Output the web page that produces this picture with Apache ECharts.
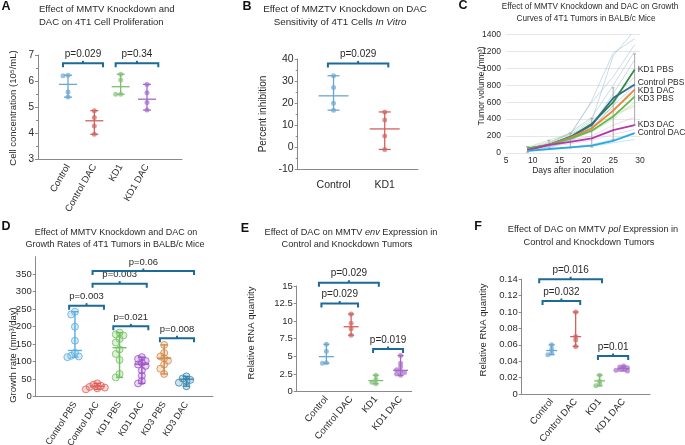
<!DOCTYPE html>
<html><head><meta charset="utf-8">
<script src="https://cdn.jsdelivr.net/npm/echarts@6/dist/echarts.min.js"></script>
<style>html,body{margin:0;padding:0;background:#fff}#c{width:685px;height:445px}</style>
</head><body><div id="c"></div>
<script>
// ---------------- DATA ----------------
// Panel A
const catsA = ['Control','Control DAC','KD1','KD1 DAC'];
const valsA = [[6.22,6.20,5.58,5.38],[4.86,4.60,4.27,3.95],[6.26,6.04,5.49,5.49],[5.87,5.55,5.17,4.88]];
const centerA = [5.87,4.47,5.78,5.30];
const bracketsA = [[0.81,2.33,6.68],[2.81,4.43,6.68]];
const pLabelsA = ['p=0.029','p=0.34'];
// Panel B
const catsB = ['Control','KD1'];
const valsB = [[32.4,27.1,19.9,16.8],[16.0,12.3,5.1,-1.0]];
const centerB = [23.3,8.3];
const bracketsB = [[0.89,2.07,38]];
const pLabelsB = ['p=0.029'];
// Panel C
const daysC = [9,13,17,21,25,29];
const controlPBS = [40,95,190,330,650,810];
const kd1PBS = [55,95,185,345,600,985];
const kd1DAC = [44,95,181,292,500,750];
const kd3PBS = [50,95,170,264,430,665];
const kd3DAC = [35,95,132,172,270,330];
const controlDAC = [24,47,67,86,142,235];
const errLowC = [10,40,60,70,160,330];
const errHighC = [75,150,235,410,770,1170];
const indivBlue = [[40,100,200,380,1150,1450],[30,90,210,620,1180,1350],[50,110,230,600,900,1280],[35,80,170,330,700,1100],[45,120,240,420,800,1200],[30,70,150,280,560,1000],[40,100,190,350,650,900],[25,60,140,300,560,800]];
const indivGreen = [[60,130,220,400,520,700],[40,90,160,250,400,600],[70,150,230,300,450,550]];
const indivPink = [[40,100,150,200,330,420],[30,80,110,150,220,280]];
const indivOrange = [[50,110,200,310,480,560]];
const indivCyan = [[20,40,60,80,120,160],[25,50,70,100,160,240]];
// Panel D
const catsD = ['Control PBS','Control DAC','KD1 PBS','KD1 DAC','KD3 PBS','KD3 DAC'];
const valsD = [
  [243,235,200,160,125,117,115,113],
  [38,34,31,28,26,24,21],
  [183,178,175,165,155,135,122,105,65,55],
  [113,108,102,97,92,88,75,60,45,38],
  [148,125,115,110,103,92,80,65],
  [58,52,48,44,40,30]
];
const centerD = [132,30,140,93,110,50];
const bracketsD = [[0.74,2.30,260],[1.79,4.22,323],[1.79,6.34,359],[2.72,4.29,201],[4.81,6.34,167]];
const pLabelsD = ['p=0.003','p=0.003','p=0.06','p=0.021','p=0.008'];
// Panel E
const catsE = ['Control','Control DAC','KD1','KD1 DAC'];
const valsE = [[6.7,5.7,4.1,4.0],[11.0,9.7,8.9,8.0],[2.3,1.7,1.3,1.1],[5.1,4.0,3.5,3.1,2.9,2.7,2.5,2.3]];
const centerE = [4.95,9.2,1.55,3.0];
const bracketsE = [[0.70,3.12,15.45],[0.80,2.28,12.5],[2.89,4.10,6.04]];
const pLabelsE = ['p=0.029','p=0.029','p=0.019'];
// Panel F
const catsF = ['Control','Control DAC','KD1','KD1 DAC'];
const valsF = [[0.060,0.055,0.050,0.048],[0.100,0.070,0.066,0.058],[0.023,0.016,0.012,0.010],[0.034,0.033,0.032,0.031,0.030,0.029,0.028]];
const centerF = [0.053,0.070,0.016,0.031];
const bracketsF = [[0.48,3.10,0.140],[0.62,2.19,0.1134],[2.93,4.19,0.0463]];
const pLabelsF = ['p=0.016','p=0.032','p=0.01'];

// ---------------- STYLE / BUILD ----------------
const FONT = '"Liberation Sans", Arial, sans-serif';
const TXT = '#2a2a2a';
const BR = '#1b6a98';
const AX = '#8a8a8a';
const colA = ['#6aa6d2','#d0625e','#7fbf72','#a668c8'];
const colB = ['#6aa6d2','#d0625e'];
const colD = ['#5aaee0','#e05e58','#74c062','#9c52c8','#d08a48','#3a86ae'];

function rgba(hex,a){const n=parseInt(hex.slice(1),16);return 'rgba('+(n>>16)+','+((n>>8)&255)+','+(n&255)+','+a+')';}
function jitter(vals,d,thr){
  const placed=[];
  return vals.map(v=>{
    const cands=[0,-d,d,-2*d,2*d,-3*d,3*d];
    let off=0;
    for(const o of cands){
      if(!placed.some(p=>Math.abs(p.o-o)<d*0.5&&Math.abs(p.v-v)<thr)){off=o;break;}
    }
    placed.push({v:v,o:off});
    return off;
  });
}

const grids=[],xAxes=[],yAxes=[],series=[],graphics=[];

function dotPanel(c){
  const gi=grids.length;
  grids.push({left:c.left,top:c.top,width:c.right-c.left,height:c.bottom-c.top,containLabel:false,outerBoundsMode:'none'});
  xAxes.push({gridIndex:gi,type:'value',min:c.xmin,max:c.xmax,
    axisLine:{show:true,onZero:false,lineStyle:{color:AX,width:1}},
    axisTick:{show:false},splitLine:{show:false},
    axisLabel:{show:true,customValues:c.cats.map((_,i)=>i+1),formatter:v=>c.cats[Math.round(v)-1]||'',
      rotate:c.rotate,fontSize:c.catFont,color:TXT,fontFamily:FONT,margin:c.catMargin,hideOverlap:false}});
  yAxes.push({gridIndex:gi,type:'value',min:c.ymin,max:c.ymax,interval:c.yint,
    axisLine:{show:true,onZero:false,lineStyle:{color:AX}},
    axisTick:{show:true,length:3,lineStyle:{color:AX}},
    minorTick:{show:!!c.minor,splitNumber:2,length:2,lineStyle:{color:AX}},
    splitLine:{show:false},
    axisLabel:{fontSize:c.tickFont,color:TXT,fontFamily:FONT,margin:4,formatter:c.yfmt,showMaxLabel:c.showMax!==false}});
  series.push({type:'custom',xAxisIndex:gi,yAxisIndex:gi,silent:true,z:3,clip:false,
    encode:{x:0,y:[1,2,3]},
    data:c.vals.map((v,i)=>[i+1,Math.min.apply(null,v),Math.max.apply(null,v),c.center[i]]),
    renderItem:function(p,api){
      const x=api.value(0),col=c.colors[p.dataIndex];
      const lo=api.coord([x,api.value(1)]),hi=api.coord([x,api.value(2)]),ce=api.coord([x,api.value(3)]);
      const st=()=>({stroke:col,lineWidth:c.lw||1.3});
      return {type:'group',children:[
        {type:'line',shape:{x1:lo[0],y1:lo[1],x2:hi[0],y2:hi[1]},style:st()},
        {type:'line',shape:{x1:lo[0]-c.cap,y1:lo[1],x2:lo[0]+c.cap,y2:lo[1]},style:st()},
        {type:'line',shape:{x1:hi[0]-c.cap,y1:hi[1],x2:hi[0]+c.cap,y2:hi[1]},style:st()},
        {type:'line',shape:{x1:ce[0]-c.mid,y1:ce[1],x2:ce[0]+c.mid,y2:ce[1]},style:st()}
      ]};
    }});
  const pts=[];
  c.vals.forEach((v,i)=>{
    const offs=jitter(v,c.jd,c.jt);
    v.forEach((y,k)=>pts.push({value:[i+1+offs[k],y],itemStyle:{
      color:c.hollow?rgba(c.colors[i],0.3):rgba(c.colors[i],0.85),
      borderColor:c.colors[i],borderWidth:c.hollow?1:0}}));
  });
  series.push({type:'scatter',xAxisIndex:gi,yAxisIndex:gi,symbolSize:c.sym,data:pts,z:4,silent:true});
  series.push({type:'custom',xAxisIndex:gi,yAxisIndex:gi,silent:true,z:5,clip:false,
    encode:{x:[0,1],y:2},
    data:c.br.map(b=>[b[0],b[1],b[2]]),
    renderItem:function(p,api){
      const a=api.coord([api.value(0),api.value(2)]),b=api.coord([api.value(1),api.value(2)]);
      const y=a[1],m=(a[0]+b[0])/2,d=4;
      return {type:'group',children:[
        {type:'polyline',shape:{points:[[a[0],y+d],[a[0],y],[b[0],y],[b[0],y+d]]},style:{stroke:BR,lineWidth:2,fill:null}},
        {type:'line',shape:{x1:m,y1:y,x2:m,y2:y-2.5},style:{stroke:BR,lineWidth:2}},
        {type:'text',x:m,y:y-9,style:{text:c.plabels[p.dataIndex],fontSize:c.pFont,fontFamily:FONT,fill:TXT,
          align:'center',verticalAlign:'middle',textAlign:'center',textVerticalAlign:'middle'}}
      ]};
    }});
}

dotPanel({left:38,right:182,top:55,bottom:159,xmin:-0.14,xmax:5.33,ymin:3,ymax:7,yint:1,minor:true,
  cats:catsA,vals:valsA,center:centerA,colors:colA,br:bracketsA,plabels:pLabelsA,
  rotate:60,catFont:9.5,catMargin:6,tickFont:10,cap:4,mid:9,sym:5,jd:0.19,jt:0.15,pFont:10});
dotPanel({left:297.7,right:418,top:59,bottom:169.3,xmin:0.3,xmax:2.65,ymin:-10,ymax:40,yint:10,minor:true,
  cats:catsB,vals:valsB,center:centerB,colors:colB,br:bracketsB,plabels:pLabelsB,
  rotate:0,catFont:10.5,catMargin:10,tickFont:10.5,cap:6,mid:15,sym:5,jd:0.08,jt:1.5,pFont:10});
dotPanel({left:35.7,right:213,top:256.7,bottom:396.7,xmin:-0.76,xmax:7.19,ymin:0,ymax:400,yint:50,showMax:false,
  cats:catsD,vals:valsD,center:centerD,colors:colD,br:bracketsD,plabels:pLabelsD,hollow:true,
  rotate:57,catFont:9,catMargin:6,tickFont:9.5,cap:3.5,mid:7,sym:7,jd:0.17,jt:14,pFont:9.5,lw:1.4});
dotPanel({left:296.7,right:411.7,top:285.9,bottom:391.5,xmin:-0.2,xmax:4.45,ymin:0,ymax:15,yint:2.5,
  cats:catsE,vals:valsE,center:centerE,colors:colA,br:bracketsE,plabels:pLabelsE,
  rotate:50,catFont:9.5,catMargin:6,tickFont:9.5,cap:3,mid:7.5,sym:5,jd:0.16,jt:0.5,pFont:10});
dotPanel({left:521.7,right:650,top:279.2,bottom:394,xmin:-0.25,xmax:5.1,ymin:0,ymax:0.14,yint:0.02,
  yfmt:v=>v===0?'0':v.toFixed(2),
  cats:catsF,vals:valsF,center:centerF,colors:colA,br:bracketsF,plabels:pLabelsF,
  rotate:50,catFont:9.5,catMargin:6,tickFont:9.5,cap:3,mid:5.5,sym:5,jd:0.16,jt:0.003,pFont:10});

// Panel C
(function(){
  const gi=grids.length;
  grids.push({left:506,top:34.5,width:134,height:118.5,containLabel:false,outerBoundsMode:'none'});
  xAxes.push({gridIndex:gi,type:'value',min:5,max:30,interval:5,axisLine:{show:false},axisTick:{show:false},splitLine:{show:false},
    axisLabel:{fontSize:8.5,color:TXT,fontFamily:FONT,margin:3},
    name:'Days after inoculation',nameLocation:'middle',nameGap:11,nameTextStyle:{fontSize:8.5,color:TXT,fontFamily:FONT}});
  yAxes.push({gridIndex:gi,type:'value',min:0,max:1400,interval:200,axisLine:{show:false},axisTick:{show:false},
    splitLine:{show:true,lineStyle:{color:'#e6e6e6',width:1}},
    axisLabel:{fontSize:8.5,color:TXT,fontFamily:FONT,margin:5,formatter:v=>String(v)}});
  const faint=[[indivBlue,'rgba(150,185,208,0.5)'],[indivGreen,'rgba(150,205,140,0.4)'],[indivPink,'rgba(225,160,215,0.4)'],
    [indivOrange,'rgba(245,190,150,0.45)'],[indivCyan,'rgba(120,200,235,0.45)']];
  faint.forEach(([grp,col])=>grp.forEach(arr=>series.push({type:'line',xAxisIndex:gi,yAxisIndex:gi,silent:true,z:1,
    showSymbol:false,lineStyle:{color:col,width:1},data:daysC.map((d,i)=>[d,arr[i]])})));
  series.push({type:'custom',xAxisIndex:gi,yAxisIndex:gi,silent:true,z:2,encode:{x:0,y:[1,2]},
    data:daysC.map((d,i)=>[d,errLowC[i],errHighC[i]]),
    renderItem:function(p,api){
      const lo=api.coord([api.value(0),api.value(1)]),hi=api.coord([api.value(0),api.value(2)]);
      const st=()=>({stroke:'#a8a8a8',lineWidth:1});
      return {type:'group',children:[
        {type:'line',shape:{x1:lo[0],y1:lo[1],x2:hi[0],y2:hi[1]},style:st()},
        {type:'line',shape:{x1:lo[0]-1.5,y1:lo[1],x2:lo[0]+1.5,y2:lo[1]},style:st()},
        {type:'line',shape:{x1:hi[0]-1.5,y1:hi[1],x2:hi[0]+1.5,y2:hi[1]},style:st()}
      ]};
    }});
  const mains=[['KD1 PBS',kd1PBS,'#2f8a3f',0],['Control PBS',controlPBS,'#2c6e8e',-2],['KD1 DAC',kd1DAC,'#ee8235',1.5],
    ['KD3 PBS',kd3PBS,'#62b84e',1.5],['KD3 DAC',kd3DAC,'#b23aa6',0],['Control DAC',controlDAC,'#25a9e0',0]];
  mains.forEach(([nm,arr,col,dy])=>series.push({type:'line',name:nm,xAxisIndex:gi,yAxisIndex:gi,silent:true,z:3,
    showSymbol:false,lineStyle:{color:col,width:1.8},itemStyle:{color:col},
    data:daysC.map((d,i)=>[d,arr[i]]),
    endLabel:{show:true,formatter:'{a}',color:TXT,fontSize:8.5,fontFamily:FONT,distance:3,offset:[0,dy]}}));
})();

function txt(x,y,text,size,opt){
  opt=opt||{};
  graphics.push({type:'text',x:x,y:y,rotation:opt.rot||0,silent:true,style:{text:text,fontSize:size,fontFamily:FONT,
    fontWeight:opt.bold?'bold':'normal',fill:opt.color||TXT,align:opt.align||'center',verticalAlign:'middle',
    textAlign:opt.align||'center',textVerticalAlign:'middle',
    rich:{i:{fontStyle:'italic',fontSize:size,fontFamily:FONT,fill:opt.color||TXT}}}});
}
const letters=[['A',6,7],['B',247,7],['C',463,6],['D',6,227],['E',245,229],['F',478,227]];
letters.forEach(l=>txt(l[1],l[2],l[0],12.5,{bold:true,color:'#111'}));
txt(39,9,'Effect of MMTV Knockdown and',9.5,{align:'left'});
txt(39,22,'DAC on 4T1 Cell Proliferation',9.5,{align:'left'});
txt(345,9,'Effect of MMZTV Knockdown on DAC',9.8);
txt(340,22,'Sensitivity of 4T1 Cells {i|In Vitro}',9.8);
txt(590,7,'Effect of MMTV Knockdown and DAC on Growth',8.2);
txt(586,18.5,'Curves of 4T1 Tumors in BALB/c Mice',8.2);
txt(116,233,'Effect of MMTV Knockdown and DAC on',9);
txt(115,245,'Growth Rates of 4T1 Tumors in BALB/c Mice',9);
txt(351,232,'Effect of DAC on MMTV {i|env} Expression in',9.2);
txt(347,244,'Control and Knockdown Tumors',9.2);
txt(593,229,'Effect of DAC on MMTV {i|pol} Expression in',9.2);
txt(589,242,'Control and Knockdown Tumors',9.2);
const R=Math.PI/2;
txt(13.5,108,'Cell concentration (10\u2075/mL)',9.5,{rot:R});
txt(263.5,114,'Percent inhibition',10,{rot:R});
txt(481.5,86,'Tumor volume (mm\u00b3)',8.5,{rot:R});
txt(13.5,355,'Growth rate (mm\u00b3/day)',9.5,{rot:R});
txt(251.7,333,'Relative RNA quantity',9.5,{rot:R});
txt(483.3,330,'Relative RNA quantity',9.5,{rot:R});

const chart=echarts.init(document.getElementById('c'),null,{renderer:'canvas'});
chart.setOption({animation:false,backgroundColor:'#fff',grid:grids,xAxis:xAxes,yAxis:yAxes,series:series,graphic:{elements:graphics}});
</script></body></html>
